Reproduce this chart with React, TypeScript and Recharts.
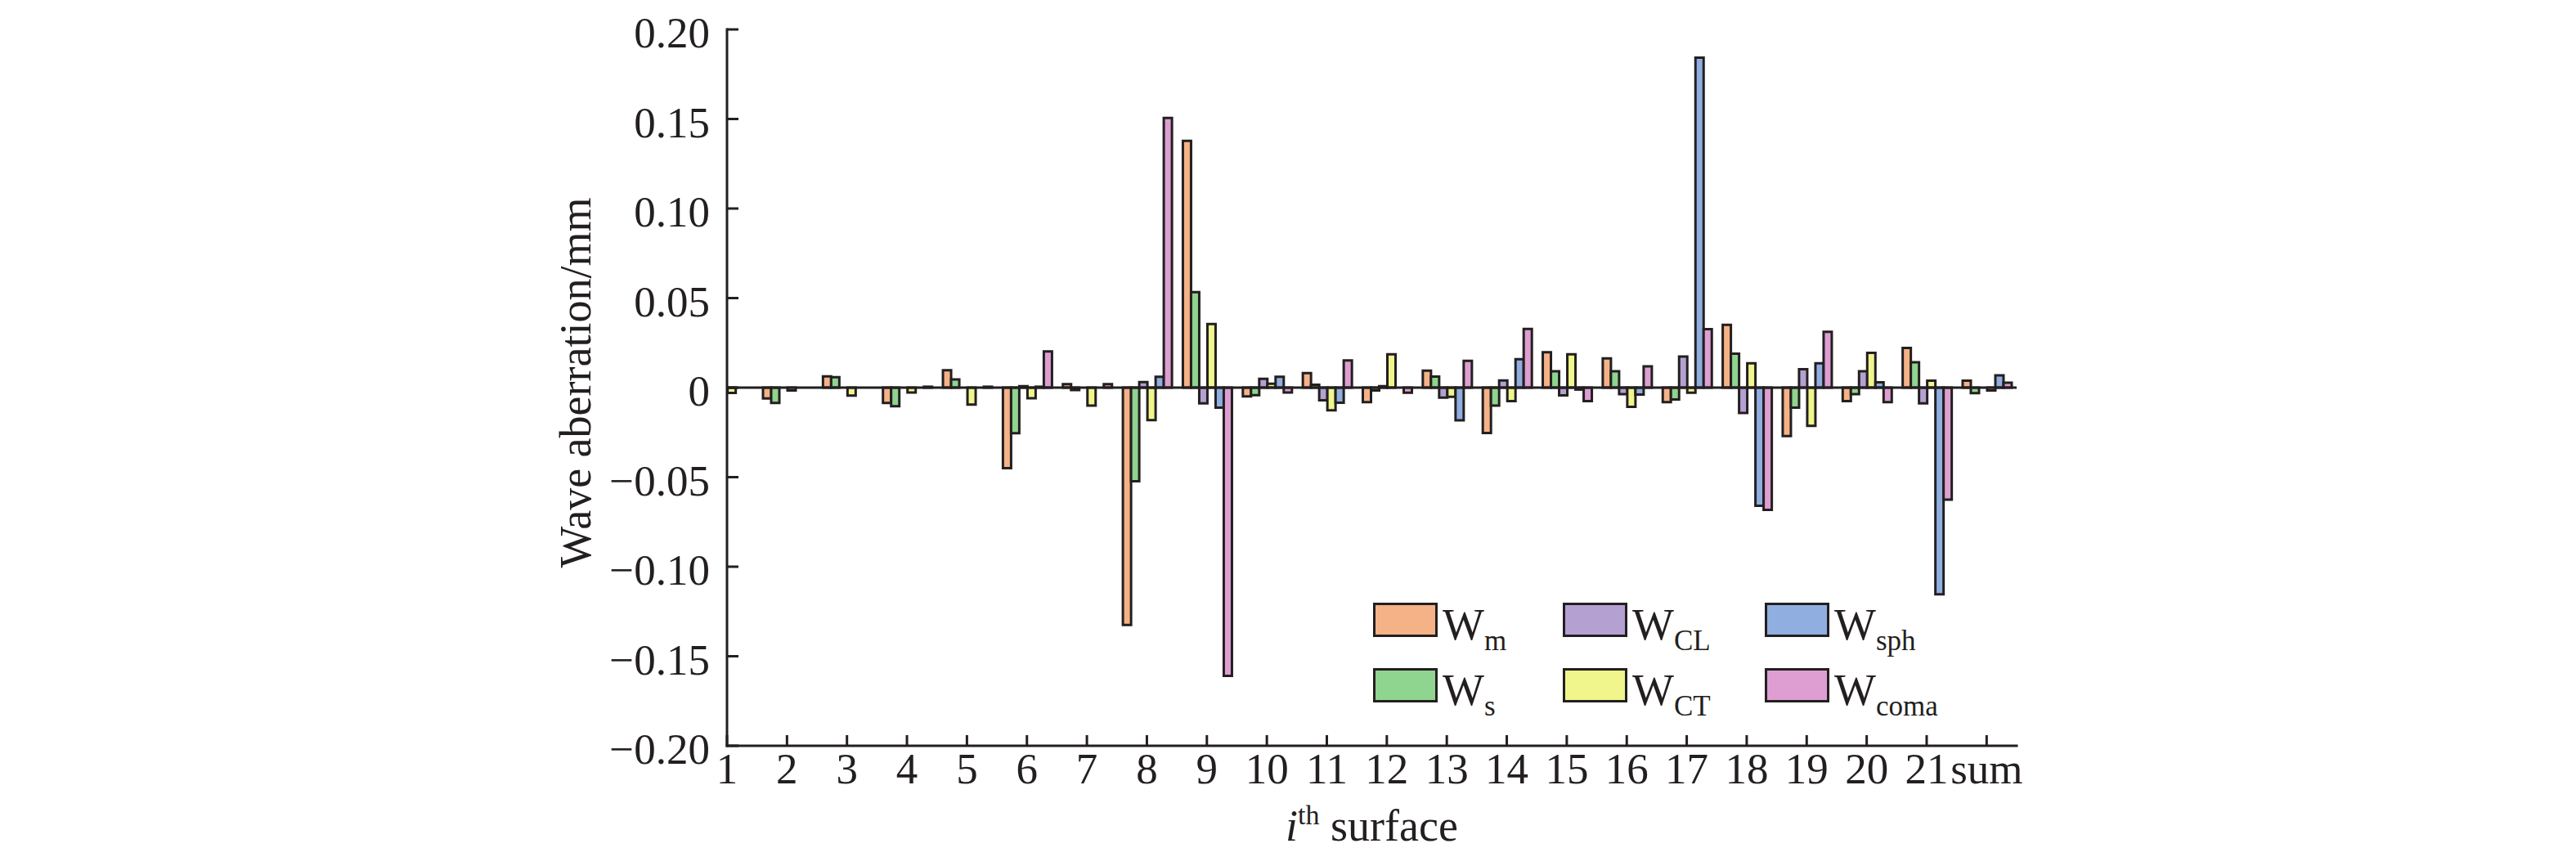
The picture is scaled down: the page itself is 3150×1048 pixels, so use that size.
import React from 'react';
import { BarChart, Bar, XAxis, YAxis, ReferenceLine, Legend } from 'recharts';

// ---- data ----
const surfaceLabels = ['1', '2', '3', '4', '5', '6', '7', '8', '9', '10', '11', '12', '13', '14', '15', '16', '17', '18', '19', '20', '21', 'sum'];
const xTicks = [1, 2, 3, 4, 5, 6, 7, 8, 9, 10, 11, 12, 13, 14, 15, 16, 17, 18, 19, 20, 21, 22];
const yTicks = [-0.2, -0.15, -0.1, -0.05, 0, 0.05, 0.1, 0.15, 0.2];

const wM = [0, -0.006, 0.0063, -0.0086, 0.0097, -0.045, 0.0019, -0.1325, 0.1378, -0.0049, 0.0081, -0.0081, 0.0095, -0.0253, 0.0198, 0.0163, -0.0081, 0.0351, -0.027, -0.0075, 0.0221, 0.0039];
const wS = [0, -0.0086, 0.0058, -0.0104, 0.0046, -0.0255, -0.0014, -0.0523, 0.0533, -0.0042, 0.0016, -0.0016, 0.0062, -0.0101, 0.0091, 0.0091, -0.0066, 0.019, -0.0112, -0.0037, 0.0141, -0.0031];
const wCL = [0, 0, 0, 0, 0, 0.0008, 0, 0.0031, -0.0088, 0.0049, -0.0071, 0.0008, -0.0056, 0.004, -0.0043, -0.0037, 0.0174, -0.0142, 0.0103, 0.0091, -0.0088, 0];
const wCT = [-0.003, -0.0016, -0.0045, -0.0027, -0.0095, -0.0059, -0.0101, -0.0182, 0.0355, 0.0022, -0.0127, 0.0186, -0.0051, -0.0075, 0.0186, -0.0107, -0.0029, 0.0136, -0.0213, 0.0194, 0.0039, -0.0016];
const wSph = [0, 0, 0, 0, 0, 0.0005, 0, 0.006, -0.0112, 0.006, -0.0084, 0, -0.0183, 0.0159, -0.0011, -0.0039, 0.1842, -0.066, 0.0136, 0.003, -0.1154, 0.0068];
const wComa = [0, 0, 0, 0.0005, 0.0005, 0.0202, 0.0019, 0.1506, -0.161, -0.0027, 0.0152, -0.0029, 0.0149, 0.0328, -0.0075, 0.0119, 0.0327, -0.0683, 0.0312, -0.0081, -0.0625, 0.0027];

const seriesKeys = ['m', 's', 'CL', 'CT', 'sph', 'coma'];
const seriesValues = [wM, wS, wCL, wCT, wSph, wComa];
const seriesColors = ['#F5B286', '#8FD48F', '#B5A0D2', '#F0F58C', '#90AEE0', '#DE9ED2'];

const data = surfaceLabels.map((label, i) => {
  const row: Record<string, number | string> = { x: xTicks[i], label };
  seriesKeys.forEach((k, j) => {
    row[k] = seriesValues[j][i];
  });
  return row;
});

// ---- style ----
const INK = '#231F20';
const FONT = "'Liberation Serif', 'Times New Roman', serif";

const fmtY = (v: number) => {
  if (Math.abs(v) < 1e-9) return '0';
  return (v < 0 ? '\u2212' : '') + Math.abs(v).toFixed(2);
};

const XTick = (props: any) => {
  const { x, y, payload } = props;
  const idx = Math.round(payload.value) - 1;
  return (
    <text x={x} y={y + 46} textAnchor="middle" fontFamily={FONT} fontSize={53} fill={INK}>
      {surfaceLabels[idx]}
    </text>
  );
};

const YTick = (props: any) => {
  const { x, y, payload } = props;
  return (
    <text x={x} y={y + 22} textAnchor="end" fontFamily={FONT} fontSize={53} fill={INK}>
      {fmtY(payload.value)}
    </text>
  );
};

const YLabel = (props: any) => {
  const vb = props.viewBox || {};
  const cx = vb.x + 33;
  const cy = vb.y + vb.height / 2 - 6;
  return (
    <text
      x={cx}
      y={cy}
      transform={`rotate(-90, ${cx}, ${cy})`}
      textAnchor="middle"
      fontFamily={FONT}
      fontSize={54}
      fill={INK}
    >
      Wave aberration/mm
    </text>
  );
};

const XLabel = (props: any) => {
  const vb = props.viewBox || {};
  const cx = vb.x + vb.width / 2;
  const by = vb.y + 116;
  return (
    <text x={cx} y={by} textAnchor="middle" fontFamily={FONT} fontSize={54} fill={INK}>
      <tspan fontStyle="italic">i</tspan>
      <tspan dy={-20} fontSize={34}>th</tspan>
      <tspan dy={20}>{'\u00A0surface'}</tspan>
    </text>
  );
};

const colOffsets = [0, 232, 479];
const rowOffsets = [0, 80];

const LegendContent = (props: any) => {
  const payload: any[] = props.payload || [];
  return (
    <svg width={820} height={140} style={{ display: 'block', overflow: 'visible' }}>
      {payload.map((entry: any, i: number) => {
        const k = seriesKeys.indexOf(String(entry.dataKey));
        const idx = k >= 0 ? k : i;
        const col = Math.floor(idx / 2);
        const row = idx % 2;
        const x0 = colOffsets[col];
        const y0 = rowOffsets[row];
        return (
          <g key={String(entry.dataKey)}>
            <rect
              x={x0 + 1.5}
              y={y0 + 1.5}
              width={76}
              height={39}
              fill={seriesColors[idx]}
              stroke={INK}
              strokeWidth={3}
            />
            <text x={x0 + 85} y={y0 + 45} fontFamily={FONT} fontSize={54} fill={INK}>
              W
              <tspan dy={13} fontSize={35}>
                {seriesKeys[idx]}
              </tspan>
            </text>
          </g>
        );
      })}
    </svg>
  );
};

export default function App() {
  return (
    <div style={{ width: 2600, height: 1032 }}>
      <BarChart
        width={2600}
        height={1032}
        data={data}
        margin={{ top: 28, right: 142, bottom: 0, left: 681 }}
        barCategoryGap="10%"
        barGap={0}
      >
        <XAxis
          dataKey="x"
          type="number"
          domain={[1, 22.5]}
          allowDataOverflow
          ticks={xTicks}
          interval={0}
          height={128}
          tickSize={-13}
          tickMargin={13}
          tick={<XTick />}
          tickLine={{ stroke: INK, strokeWidth: 3 }}
          axisLine={{ stroke: INK, strokeWidth: 3, strokeLinecap: 'square' }}
          label={<XLabel />}
        />
        <XAxis
          xAxisId="top"
          orientation="top"
          dataKey="x"
          type="number"
          domain={[1, 22.5]}
          allowDataOverflow
          height={0}
          tick={false}
          tickLine={false}
          axisLine={{ stroke: INK, strokeWidth: 3, strokeLinecap: 'square' }}
        />
        <YAxis
          type="number"
          domain={[-0.2, 0.2]}
          ticks={yTicks}
          interval={0}
          width={200}
          tickSize={-14}
          tickMargin={35}
          tick={<YTick />}
          tickLine={{ stroke: INK, strokeWidth: 3 }}
          axisLine={{ stroke: INK, strokeWidth: 3, strokeLinecap: 'square' }}
          label={<YLabel />}
        />
        <YAxis
          yAxisId="right"
          orientation="right"
          type="number"
          domain={[-0.2, 0.2]}
          width={0}
          tick={false}
          tickLine={false}
          axisLine={{ stroke: INK, strokeWidth: 3, strokeLinecap: 'square' }}
        />
        <Legend
          layout="horizontal"
          verticalAlign="middle"
          align="center"
          content={<LegendContent />}
          wrapperStyle={{ position: 'absolute', left: 1671, top: 729, width: 820, height: 140 }}
        />
        {seriesKeys.map((k, j) => (
          <Bar
            key={k}
            dataKey={k}
            name={k}
            fill={seriesColors[j]}
            stroke={INK}
            strokeWidth={3}
            isAnimationActive={false}
          />
        ))}
        <ReferenceLine y={0} stroke={INK} strokeWidth={3} />
      </BarChart>
    </div>
  );
}
